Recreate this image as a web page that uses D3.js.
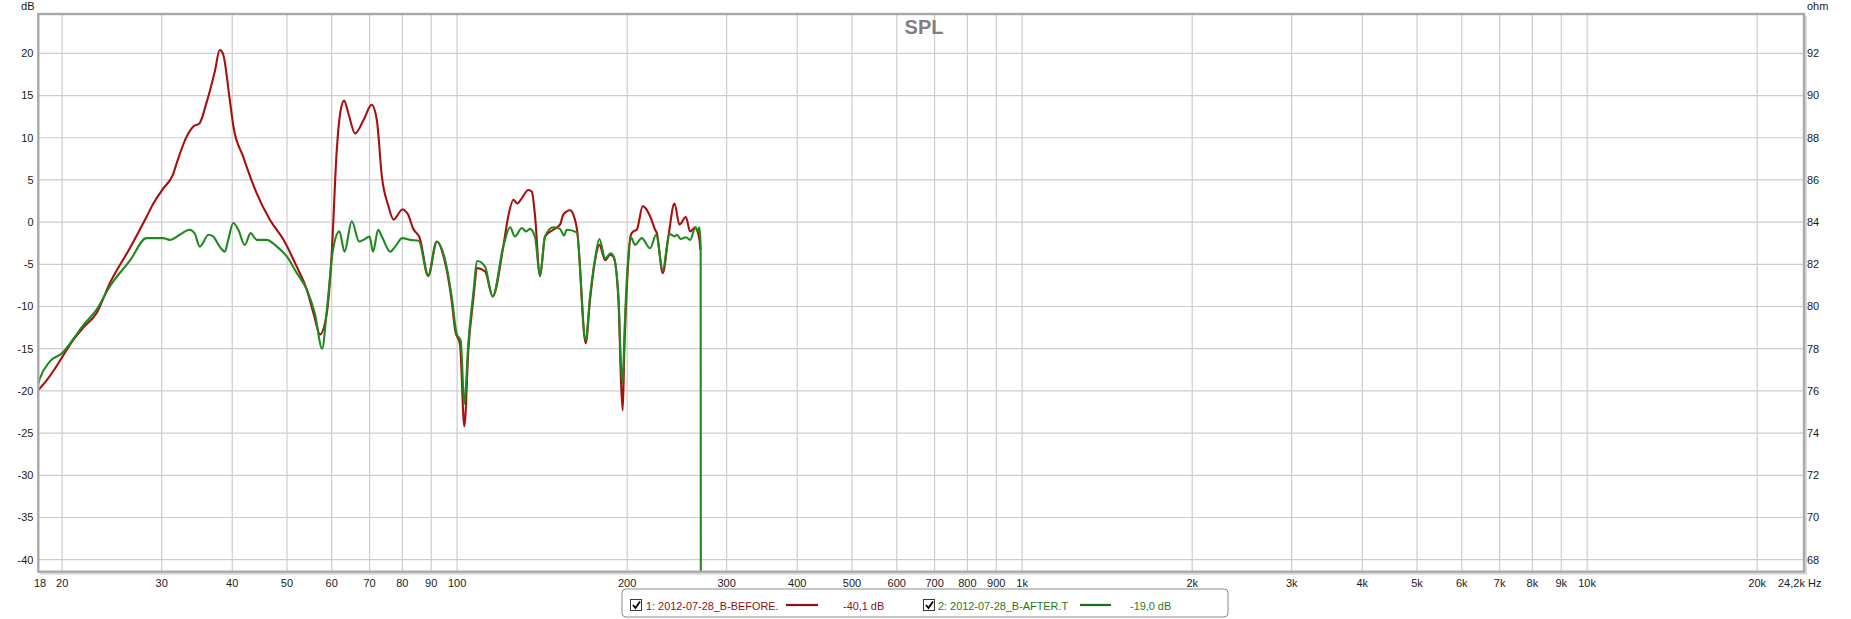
<!DOCTYPE html>
<html><head><meta charset="utf-8">
<script src="https://cdn.jsdelivr.net/npm/d3@7"></script>
<style>
body{margin:0;background:#fff}
svg{display:block}
text{font-family:"Liberation Sans",Arial,Helvetica,sans-serif}
</style>
</head><body>
<svg id="chart" width="1851" height="619"></svg>
<script>
// ---------- DATA ----------
const beforeFreq = [18.15,18.8,19.4,20.0,20.9,21.8,23.0,24.3,26.4,28.2,29.0,30.2,31.4,31.9,33.2,34.1,35.0,36.0,37.3,38.0,38.5,39.6,40.2,41.8,44.2,46.6,49.3,52.0,54.2,55.7,57.2,58.8,60.0,61.2,62.1,63.1,64.2,66.0,68.3,70.6,72.1,73.6,75.6,77.2,80.0,81.9,83.5,85.9,88.9,92.0,95.0,97.9,99.2,101.2,103.0,104.7,106.8,108.6,112.1,115.6,120.7,123.2,125.8,127.8,130.2,133.7,135.6,137.4,140.2,143.1,148.0,152.1,154.2,158.5,160.6,163.2,168.9,171.9,175.5,178.6,182.8,186.5,189.1,193.0,195.1,196.4,197.7,200.2,203.0,205.1,208.0,213.1,219.6,224.1,225.7,231.2,236.6,242.5,247.5,254.0,258.5,263.8,268.5,269.5];
const beforeDb   = [-19.9,-18.7,-17.4,-16.0,-14.0,-12.5,-10.8,-7.2,-3.0,0.6,2.2,4.0,5.6,7.0,10.1,11.3,11.7,14.1,18.0,20.4,20.0,14.5,11.3,7.8,3.4,0.3,-2.1,-5.25,-8.0,-10.8,-13.3,-10.8,-3.7,8.2,12.9,14.4,12.9,10.5,12.1,13.9,12.1,5.4,1.9,0.3,1.5,0.9,-0.7,-1.9,-6.3,-2.3,-4.5,-9.5,-12.8,-14.5,-24.2,-15.1,-9.2,-5.45,-5.85,-8.8,-2.9,0.7,2.65,2.2,2.85,3.8,3.6,0.7,-6.4,-1.7,-0.9,-0.3,0.9,1.4,0.9,-1.1,-14.35,-9.2,-4.5,-2.7,-4.5,-3.9,-4.1,-9.2,-19.1,-22.3,-15.1,-6.4,-1.5,-1.1,-0.9,1.9,0.7,-0.9,-1.3,-6.05,-1.7,2.2,-0.3,0.6,-1.1,-0.6,-2.1,-3.3];

const afterFreq = [18.15,18.27,19.03,20.0,20.9,21.8,23.0,24.3,26.4,28.2,30.2,31.0,32.3,33.6,34.3,35.05,36.3,37.0,38.0,38.8,39.35,40.16,41.0,42.1,43.1,44.2,46.0,48.0,50.0,52.0,54.2,56.0,57.7,58.8,60.3,61.9,63.2,65.1,67.1,68.3,70.0,71.0,72.5,73.6,76.1,77.7,80.0,82.5,85.5,88.9,92.1,95.0,97.9,99.8,101.5,103.0,104.7,106.8,108.6,112.1,115.6,120.7,124.1,126.6,130.2,132.4,134.6,137.4,140.2,143.1,148.0,152.1,154.6,156.3,162.8,168.9,171.9,175.5,178.6,182.8,187.0,189.1,193.0,195.1,196.4,197.7,200.2,203.0,206.6,212.2,219.6,225.0,231.2,237.6,242.5,244.8,248.9,254.0,258.5,264.2,266.5,268.5,269.8,270.0];
const afterDb   = [-19.1,-18.5,-16.5,-15.5,-13.9,-12.2,-10.4,-7.6,-4.5,-1.9,-1.9,-2.1,-1.5,-0.9,-1.3,-2.9,-1.5,-1.7,-2.9,-3.5,-2.1,-0.1,-0.9,-2.7,-1.3,-2.1,-2.1,-2.9,-4.1,-6.0,-8.0,-10.8,-15.0,-10.5,-3.3,-1.1,-3.5,0.1,-2.3,-2.1,-1.7,-3.5,-0.9,-1.7,-3.5,-2.9,-1.9,-2.1,-2.2,-6.4,-2.3,-4.2,-9.0,-13.2,-14.1,-21.5,-14.3,-8.5,-4.6,-5.3,-8.8,-2.9,-0.6,-1.7,-0.7,-1.1,-0.8,-1.8,-6.4,-1.7,-0.6,-0.8,-1.6,-0.9,-1.2,-14.0,-8.8,-4.3,-2.0,-4.3,-3.7,-4.0,-8.8,-17.1,-19.1,-13.5,-5.6,-1.8,-2.7,-1.9,-3.1,-1.5,-5.65,-1.4,-1.7,-1.5,-2.0,-1.8,-2.1,-0.6,-1.1,-0.6,-3.0,-42];

const xGridValues = [20,30,40,50,60,70,80,90,100,200,300,400,500,600,700,800,900,1000,2000,3000,4000,5000,6000,7000,8000,9000,10000,20000];
const xTickValues = [18,20,30,40,50,60,70,80,90,100,200,300,400,500,600,700,800,900,1000,2000,3000,4000,5000,6000,7000,8000,9000,10000,20000];
const xTickLabels = ["18","20","30","40","50","60","70","80","90","100","200","300","400","500","600","700","800","900","1k","2k","3k","4k","5k","6k","7k","8k","9k","10k","20k"];
const xEndValue = 24200, xEndLabel = "24,2k Hz";
const dbTicks = [20,15,10,5,0,-5,-10,-15,-20,-25,-30,-35,-40];
const ohmTicks = [92,90,88,86,84,82,80,78,76,74,72,70,68];
const seriesNames = ["1: 2012-07-28_B-BEFORE.","2: 2012-07-28_B-AFTER.T"];
const seriesOffsets = ["-40,1 dB","-19,0 dB"];
const titleText = "SPL";

// ---------- LAYOUT ----------
const svg = d3.select("#chart");
const L = 38.3, R = 1804, T = 14, B = 571.7;
const dbDomain = [-41.42, 24.66];
const x = d3.scaleLog().domain([18, 24200]).range([36.3, 1804]);
const y = d3.scaleLinear().domain(dbDomain).range([B, T]);
const yOhm = d3.scaleLinear().domain([84 + 0.4*dbDomain[0], 84 + 0.4*dbDomain[1]]).range([B, T]);

svg.append("rect").attr("width",1851).attr("height",619).attr("fill","#fff");

// grid
const grid = svg.append("g");
grid.selectAll("line.v").data(xGridValues).join("line")
  .attr("x1",d=>x(d)).attr("x2",d=>x(d)).attr("y1",T).attr("y2",B)
  .attr("stroke","#cdcdcd").attr("stroke-width",1.2);
grid.selectAll("line.h").data(dbTicks).join("line")
  .attr("x1",L).attr("x2",R).attr("y1",d=>y(d)).attr("y2",d=>y(d))
  .attr("stroke","#cdcdcd").attr("stroke-width",1.2);

// title
svg.append("text").attr("x",924).attr("y",34).attr("text-anchor","middle")
  .attr("font-size",20).attr("font-weight","bold").attr("fill","#7f7f7f").text(titleText);

// curves
svg.append("clipPath").attr("id","clip").append("rect")
  .attr("x",L).attr("y",T).attr("width",R-L).attr("height",B-T);
const line = d3.line().x(d=>x(d[0])).y(d=>y(d[1])).curve(d3.curveMonotoneX);
const before = beforeFreq.map((f,i)=>[f,beforeDb[i]]);
const after = afterFreq.map((f,i)=>[f,afterDb[i]]);
const cg = svg.append("g").attr("clip-path","url(#clip)");
cg.append("path").attr("d",line(before)).attr("fill","none").attr("stroke","#a80f0f").attr("stroke-width",2.1).attr("stroke-linejoin","round");
cg.append("path").attr("d",line(after)).attr("fill","none").attr("stroke","#1e8a1e").attr("stroke-width",2.1).attr("stroke-linejoin","round");

// frame with shadow
svg.append("path").attr("d",`M${L+2},${B+2}H${R+2}V${T+2}`).attr("fill","none").attr("stroke","#dadada").attr("stroke-width",2);
svg.append("rect").attr("x",L).attr("y",T).attr("width",R-L).attr("height",B-T)
  .attr("fill","none").attr("stroke","#a9a9a9").attr("stroke-width",2.4);

// axis labels
const ax = svg.append("g").attr("font-size",11).attr("fill","#1a1a1a");
ax.selectAll("text.l").data(dbTicks).join("text")
  .attr("x",33.5).attr("y",d=>y(d)).attr("dy","0.35em").attr("text-anchor","end").text(d=>d);
ax.selectAll("text.r").data(ohmTicks).join("text")
  .attr("x",1807).attr("y",d=>yOhm(d)).attr("dy","0.35em").attr("text-anchor","start").text(d=>d);
ax.selectAll("text.b").data(xTickValues).join("text")
  .attr("x",(d,i)=> i===0 ? x(d)+3.8 : x(d)).attr("y",587).attr("text-anchor","middle")
  .text((d,i)=>xTickLabels[i]);
ax.append("text").attr("x",x(xEndValue)-26).attr("y",587).attr("text-anchor","start").text(xEndLabel);
ax.append("text").attr("x",34.5).attr("y",10).attr("text-anchor","end").text("dB");
ax.append("text").attr("x",1807).attr("y",10).attr("text-anchor","start").text("ohm");

// legend
const lg = svg.append("g");
lg.append("rect").attr("x",622).attr("y",589).attr("width",606).attr("height",28).attr("rx",4)
  .attr("fill","#fff").attr("stroke","#8c8c8c").attr("stroke-width",1);
const legendItems = [
  {cx:630, tx:646, lx1:786, lx2:818, ox:843, text:"#8b1212", lineC:"#8c1313"},
  {cx:923, tx:938, lx1:1080, lx2:1111, ox:1130, text:"#1c7a1c", lineC:"#1a6e1a"}
];
legendItems.forEach((it,i)=>{
  lg.append("rect").attr("x",it.cx+0.5).attr("y",599.5).attr("width",11).attr("height",11)
    .attr("fill","#fff").attr("stroke","#3a3a3a").attr("stroke-width",1);
  lg.append("path").attr("d",`M${it.cx+3},${605} L${it.cx+5.5},${608} L${it.cx+10},${601.5}`)
    .attr("fill","none").attr("stroke","#000").attr("stroke-width",1.8);
  lg.append("text").attr("x",it.tx).attr("y",609.5).attr("font-size",10.9).attr("fill",it.text).text(seriesNames[i]);
  lg.append("line").attr("x1",it.lx1).attr("x2",it.lx2).attr("y1",605).attr("y2",605)
    .attr("stroke",it.lineC).attr("stroke-width",2.2);
  lg.append("text").attr("x",it.ox).attr("y",609.5).attr("font-size",10.9).attr("fill",it.text).text(seriesOffsets[i]);
});
</script>
</body></html>
